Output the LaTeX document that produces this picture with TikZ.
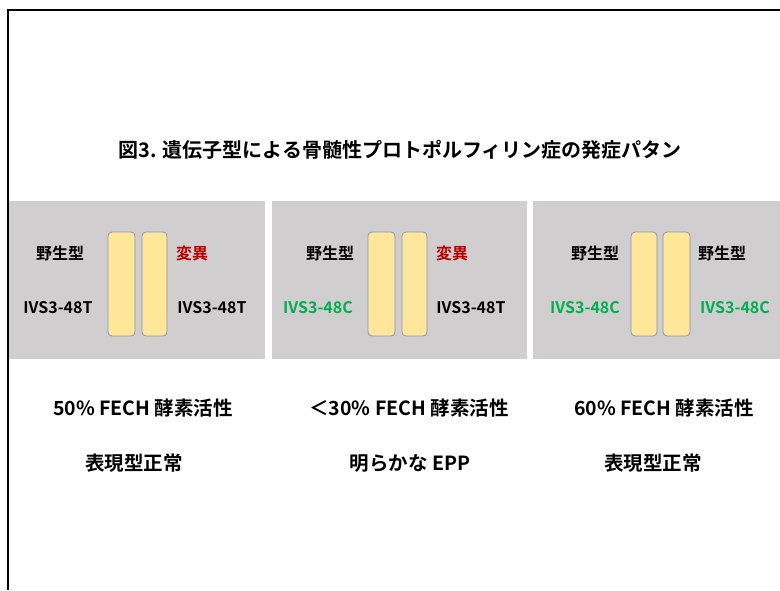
\documentclass[tikz,border=0pt]{standalone}
\usepackage{fontspec}
\setmainfont{Noto Sans CJK JP}[BoldFont={Noto Sans CJK JP Bold}]
\definecolor{panelgray}{HTML}{D0CECF}
\definecolor{barfill}{HTML}{FFE699}
\definecolor{barline}{HTML}{8497B0}
\definecolor{mutred}{HTML}{C00000}
\definecolor{wtgreen}{HTML}{00B050}
\tikzset{
  panelbox/.style={fill=panelgray},
  allele/.style={draw=barline,fill=barfill,line width=0.8pt,rounded corners=4pt},
  lbl/.style={font=\fontsize{16}{19}\selectfont\bfseries,inner sep=0pt},
  info/.style={font=\fontsize{19.5}{23}\selectfont\bfseries,inner sep=0pt},
  ttl/.style={font=\fontsize{20}{24}\selectfont\bfseries,inner sep=0pt}
}
\begin{document}
\begin{tikzpicture}[x=1pt,y=-1pt]
\useasboundingbox (0,0) rectangle (780,590);
\fill[white] (0,0) rectangle (780,590);
\draw[line width=1.3pt] (8,590) -- (8,10) -- (780,10);
\node[ttl] (title) at (400,150) {図3. 遺伝子型による骨髄性プロトポルフィリン症の発症パタン};
% panels
\fill[panelbox] (9,201) rectangle (265,359);
\fill[panelbox] (272,201) rectangle (527,359);
\fill[panelbox] (533,201) rectangle (780,359);
% bars
\draw[allele] (108,232) rectangle (135,336);
\draw[allele] (142,232) rectangle (167,336);
\draw[allele] (368,232) rectangle (395,336);
\draw[allele] (402,232) rectangle (427,336);
\draw[allele] (631,232) rectangle (657,336);
\draw[allele] (663,232) rectangle (690,336);
% panel 1 labels
\node[lbl] (p1wt) at (60,253) {野生型};
\node[lbl] (p1a) at (58,308) {IVS3-48T};
\node[lbl,text=mutred] (p1mut) at (192,253) {変異};
\node[lbl] (p1b) at (212,308) {IVS3-48T};
% panel 2 labels
\node[lbl] (p2wt) at (330,253) {野生型};
\node[lbl,text=wtgreen] (p2a) at (318,308) {IVS3-48C};
\node[lbl,text=mutred] (p2mut) at (452,253) {変異};
\node[lbl] (p2b) at (471,308) {IVS3-48T};
% panel 3 labels
\node[lbl] (p3wt) at (595,253) {野生型};
\node[lbl,text=wtgreen] (p3a) at (585,308) {IVS3-48C};
\node[lbl] (p3wt2) at (722,253) {野生型};
\node[lbl,text=wtgreen] (p3b) at (735,308) {IVS3-48C};
% bottom info
\node[info] (act1) at (143,408) {50\% FECH 酵素活性};
\node[info] (act2) at (409,408) {＜30\% FECH 酵素活性};
\node[info] (act3) at (664,408) {60\% FECH 酵素活性};
\node[info] (ph1) at (134,463) {表現型正常};
\node[info] (ph2) at (410,463) {明らかな EPP};
\node[info] (ph3) at (653,463) {表現型正常};
\end{tikzpicture}
\end{document}
